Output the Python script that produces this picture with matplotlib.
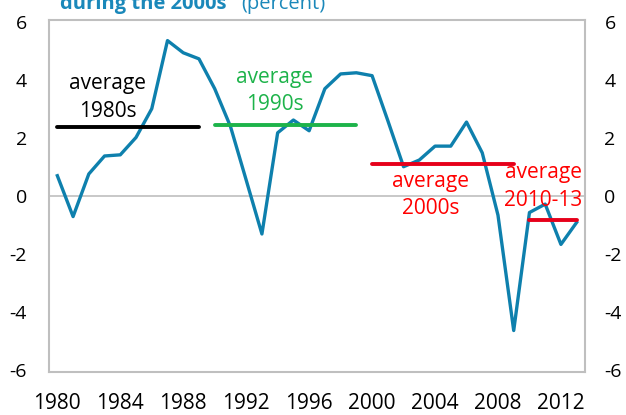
import numpy as np
import matplotlib
matplotlib.use("Agg")
from matplotlib import pyplot as plt

plt.rcParams['font.family'] = ['Open Sans', 'DejaVu Sans']
plt.rcParams['axes.unicode_minus'] = False

# data (percent)
years = list(range(1980, 2014))
growth = [0.70, -0.71, 0.76, 1.38, 1.42, 2.02, 3.01, 5.36, 4.94, 4.73,
          3.70, 2.40, 0.55, -1.31, 2.18, 2.62, 2.25, 3.70, 4.21, 4.25,
          4.15, 2.60, 1.01, 1.24, 1.72, 1.72, 2.55, 1.49, -0.66, -4.64,
          -0.57, -0.28, -1.67, -0.91]

avg_labels = ['1980s', '1990s', '2000s', '2010-13']
avg_start = [1980, 1990, 2000, 2010]
avg_end = [1989, 1999, 2009, 2013]
avg_values = [2.39, 2.46, 1.09, -0.84]

xtick_years = list(range(1980, 2013, 4))
yticks = [-6, -4, -2, 0, 2, 4, 6]

line_color = '#0e80ad'
grey = '#bfbfbf'
avg_colors = ['black', '#1db34a', '#e6001a', '#e6001a']
text_colors = ['black', '#1db34a', '#ff0000', '#ff0000']
# label placement (x centre, baseline of "average", baseline of the period)
label_pos = [(1983.2, 3.68, 2.71), (1993.8, 3.89, 2.97),
             (2003.7, 0.32, -0.62), (2010.9, 0.61, -0.34)]

fig = plt.figure(figsize=(6.26, 4.15), dpi=100)
ax = fig.add_axes([49 / 626, 1 - 372 / 415, (585 - 49) / 626, (372 - 20) / 415])

ax.axhline(0, color=grey, lw=1.2, zorder=1)
ax.plot(years, growth, color=line_color, lw=2.4, zorder=3)

for i in range(len(avg_labels)):
    ax.plot([avg_start[i], avg_end[i]], [avg_values[i]] * 2,
            color=avg_colors[i], lw=2.8, zorder=4, solid_capstyle='round')
    x, y1, y2 = label_pos[i]
    ax.text(x, y1, 'average', color=text_colors[i], fontsize=15,
            ha='center', va='baseline', zorder=5, clip_on=False)
    ax.text(x, y2, avg_labels[i], color=text_colors[i], fontsize=15,
            ha='center', va='baseline', zorder=5, clip_on=False)

ax.set_xlim(1979.47, 2013.53)
ax.set_ylim(-6.07, 6.07)
ax.set_xticks(xtick_years)
ax.set_xticklabels([str(y) for y in xtick_years])
ax.set_yticks(yticks)
ax.tick_params(axis='both', length=0, labelsize=14)
ax.tick_params(axis='x', pad=15, labelsize=15)
ax.tick_params(axis='y', pad=16)

for s in ax.spines.values():
    s.set_color(grey)
    s.set_linewidth(1.5)

ax2 = ax.twinx()
ax2.set_ylim(ax.get_ylim())
ax2.set_yticks(yticks)
ax2.tick_params(axis='y', length=0, labelsize=14, pad=14)
for s in ax2.spines.values():
    s.set_visible(False)

# title, cut at the top of the image
fig.text(60 / 626, 1 - 9.5 / 415, 'during the 2000s', color='#1a88ba',
         fontsize=14.5, fontweight='bold', va='baseline', ha='left')
fig.text(241 / 626, 1 - 9.5 / 415, '(percent)', color='#1a88ba',
         fontsize=14.5, va='baseline', ha='left')

plt.savefig('out.png', dpi=100)
